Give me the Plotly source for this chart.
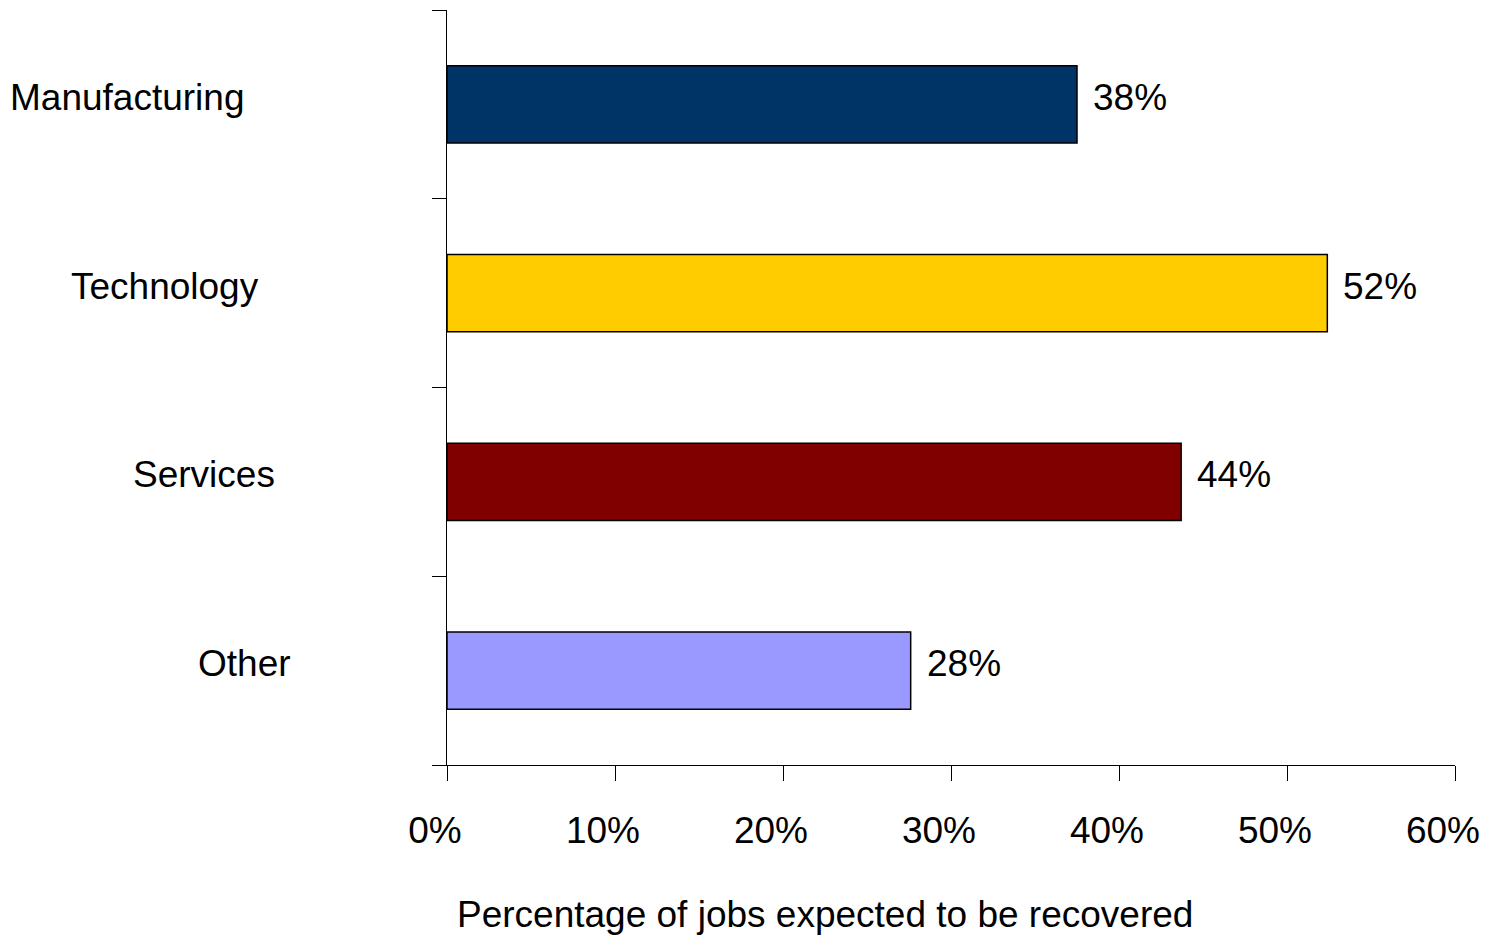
import plotly.graph_objects as go

categories = ["Manufacturing", "Technology", "Services", "Other"]
values = [0.375, 0.524, 0.437, 0.276]
value_labels = ["38%", "52%", "44%", "28%"]
colors = ["#003366", "#FFCC00", "#800000", "#9999FF"]
x_ticks = [0, 0.1, 0.2, 0.3, 0.4, 0.5, 0.6]
x_tick_labels = ["0%", "10%", "20%", "30%", "40%", "50%", "60%"]
label_shifts = [-201, -186, -170, -154]

FONT = "Liberation Sans, Arial, sans-serif"
FS = 37

W, H = 1486, 937
ML, MR, MT, MB = 447, 31, 10, 172

fig = go.Figure()
fig.add_trace(go.Bar(
    x=values, y=categories, orientation="h",
    marker=dict(color=colors, line=dict(color="#000000", width=1.5)),
    width=0.41, showlegend=False, hoverinfo="skip",
))

annotations = []
for cat, v, lab in zip(categories, values, value_labels):
    annotations.append(dict(x=v, y=cat, xref="x", yref="y", text=lab, showarrow=False,
                            xanchor="left", yanchor="middle", xshift=14, yshift=7,
                            font=dict(family=FONT, size=FS, color="#000000")))
for cat, sh in zip(categories, label_shifts):
    annotations.append(dict(x=0, y=cat, xref="paper", yref="y", text=cat, showarrow=False,
                            xanchor="right", yanchor="middle", xshift=sh, yshift=7,
                            font=dict(family=FONT, size=FS, color="#000000")))

plot_w = W - ML - MR
plot_h = H - MT - MB
annotations.append(dict(x=(825 - ML) / plot_w, y=(765 - 915) / plot_h, xref="paper", yref="paper",
                        text="Percentage of jobs expected to be recovered",
                        showarrow=False, xanchor="center", yanchor="middle",
                        font=dict(family=FONT, size=FS, color="#000000")))

fig.update_layout(
    template="none",
    width=W, height=H,
    margin=dict(l=ML, r=MR, t=MT, b=MB, autoexpand=False),
    paper_bgcolor="white", plot_bgcolor="white",
    font=dict(family=FONT, size=FS, color="#000000"),
    xaxis=dict(range=[0, 0.6], tickmode="array", tickvals=x_ticks, ticktext=x_tick_labels,
               automargin=False,
               showgrid=False, zeroline=False, showline=True, linecolor="#000000", linewidth=1,
               ticks="outside", ticklen=15, tickcolor="#000000", tickwidth=1,
               ticklabelstandoff=18, ticklabelshift=-12, ticklabeloverflow="allow",
               tickfont=dict(family=FONT, size=FS, color="#000000")),
    yaxis=dict(categoryorder="array", categoryarray=categories[::-1], tickson="boundaries",
               automargin=False,
               showgrid=False, zeroline=False, showline=True, linecolor="#000000", linewidth=1,
               ticks="outside", ticklen=14, tickcolor="#000000", tickwidth=1,
               showticklabels=False, range=[-0.5, 3.5]),
    annotations=annotations,
)

fig.write_html("out.html", config={"displayModeBar": False},
               post_script="document.body.style.margin='0';document.body.style.overflow='hidden';")
